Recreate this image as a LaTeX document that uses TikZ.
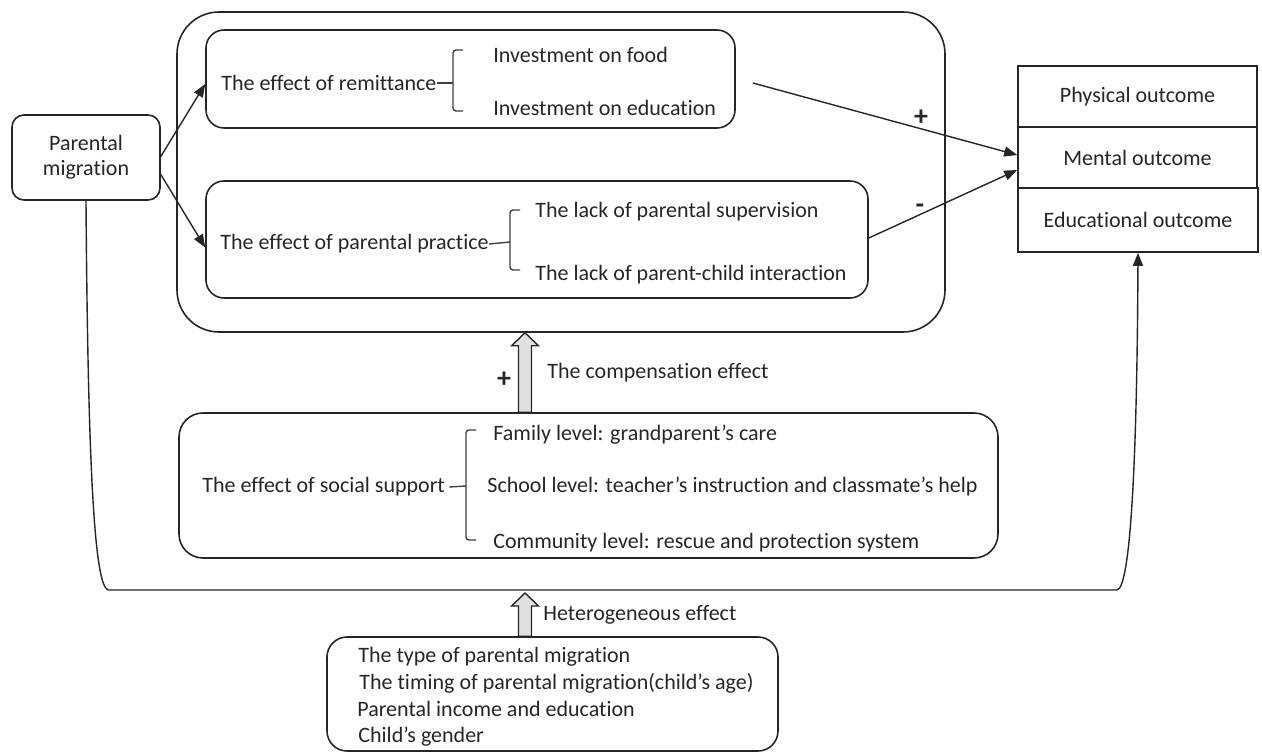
\documentclass[tikz,border=0pt]{standalone}
\usepackage{fontspec}
\setmainfont{Carlito}[Ligatures={NoCommon}]
\usetikzlibrary{calc,fit,arrows.meta}
\def\fatarrow(#1)(#2){\draw[fatline] ($(#1)+(-6.5,0)$) -- ($(#2)+(-6.5,13)$) -- ($(#2)+(-13.5,13)$) -- (#2) -- ($(#2)+(13.5,13)$) -- ($(#2)+(6.5,13)$) -- ($(#1)+(6.5,0)$) -- cycle;}
\def\bracket(#1,#2,#3){\draw[brk] (#1+10,#2) -- (#1,#2) -- (#1,#3) -- (#1+10,#3);}
\tikzset{
	txt/.style={font=\fontsize{11}{12.5}\selectfont, text=black!85, inner sep=0pt},
	rbox/.style={draw=black!85, line width=0.8pt, rounded corners=9pt, inner sep=0pt},
	sqbox/.style={draw=black!85, line width=0.8pt, inner sep=0pt, minimum width=119.5pt, font=\fontsize{11}{12.5}\selectfont, text=black!85},
	conn/.style={draw=black!85, line width=0.7pt, -{Triangle[length=6.5pt,width=5pt]}},
	brk/.style={draw=black!75, line width=0.7pt, rounded corners=1.5pt},
	fatline/.style={draw=black!85, line width=0.7pt, fill=black!12},
	sign/.style={font=\fontsize{14}{14}\bfseries, text=black!85, inner sep=0pt}
}
\begin{document}
\begin{tikzpicture}[x=0.5pt, y=-0.5pt]
		%%%%% START %%%%%
		\useasboundingbox (0,0) rectangle (1262,753);
		
		\node[rbox, rounded corners=21pt, fit={(177,12) (945,332)}] (outer) {};
		\node[rbox, fit={(206,30) (735,128)}] (remitbox) {};
		\node[rbox, fit={(206,181) (868,298)}] (practbox) {};
		\node[rbox, rounded corners=12pt, fit={(179,413) (998,558)}] (socialbox) {};
		\node[rbox, rounded corners=10pt, fit={(327,637) (778,751)}] (hetbox) {};
		
		\node[rbox, rounded corners=6pt, minimum width=74pt, minimum height=42.5pt, align=center, txt] (pm) at (86,157.5) {Parental\\migration};
		
		\node[sqbox, minimum height=30.5pt] (phys) at (1137.5,96.5) {Physical outcome};
		\node[sqbox, minimum height=30.5pt] (mental) at (1137.5,157.5) {Mental outcome};
		\node[sqbox, minimum height=32pt, minimum width=120pt] (educ) at (1138,220) {Educational outcome};
		
		% remittance
		\node[txt, anchor=west] (remit) at (221,83) {The effect of remittance};
		\node[txt, anchor=west] (food) at (493,55) {Investment on food};
		\node[txt, anchor=west] (edu) at (493,108) {Investment on education};
		\bracket(453,50,111)
		\draw[brk] (remit.east) -- (453,83);
		
		% parental practice
		\node[txt, anchor=west] (pract) at (220,244) {The effect of parental practice};
		\node[txt, anchor=west] (superv) at (535,212) {The lack of parental supervision};
		\node[txt, anchor=west] (interact) at (535,275) {The lack of parent-child interaction};
		\bracket(510,210,270)
		\draw[brk] (pract.east) -- (510,242);
		
		% social support
		\node[txt, anchor=west] (social) at (202,487) {The effect of social support};
		\node[txt, anchor=west] (family) at (493,435) {Family level: grandparent’s care};
		\node[txt, anchor=west] (school) at (487,487) {School level: teacher’s instruction and classmate’s help};
		\node[txt, anchor=west] (community) at (493,543) {Community level: rescue and protection system};
		\bracket(466,430,540)
		\draw[brk] ([xshift=2pt]social.east) -- (466,486);
		
		% heterogeneity
		\node[txt, anchor=west] (type) at (358,657) {The type of parental migration};
		\node[txt, anchor=west] (timing) at (359,683) {The timing of parental migration(child’s age)};
		\node[txt, anchor=west] (income) at (357,709) {Parental income and education};
		\node[txt, anchor=west] (gender) at (358,737) {Child’s gender};
		
		% arrows
		\draw[conn] ($(pm.east)+(0,-1)$) -- ($(remitbox.west)+(0,5)$);
		\draw[conn] ($(pm.east)+(0,17)$) -- ($(practbox.west)+(0,8)$);
		\draw[conn] ($(remitbox.east)+(17,4)$) -- ($(mental.west)+(0,-2.5)$);
		\draw[conn] ($(practbox.east)+(0,-1.5)$) -- ($(mental.west)+(0,12.5)$);
		\node[sign] (plus1) at (921,118) {+};
		\node[sign] (minus1) at (920,209) {-};
		
		\draw[conn] (pm.south) .. controls (88,480) and (95,585) .. (108,590) -- (1117,590) .. controls (1130,588) and (1137,470) .. (educ.south);
		
		\coordinate (fa) at (525,0);
		\coordinate (hettip) at (525,593);
		\fatarrow(socialbox.north -| fa)(outer.south -| fa)
		\fatarrow(hetbox.north -| fa)(hettip)
		\node[sign] (plus2) at (504,380) {+};
		\node[txt, anchor=west] (comptext) at (547,373) {The compensation effect};
		\node[txt, anchor=west] (hettext) at (543,615) {Heterogeneous effect};
		
		%%%%% END %%%%%
	\end{tikzpicture}
\end{document}
